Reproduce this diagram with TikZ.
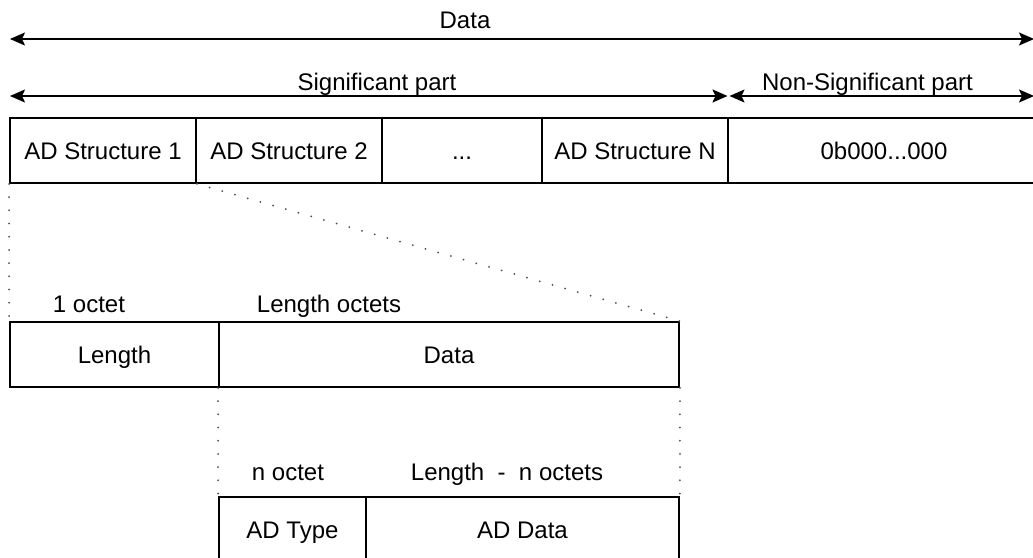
\documentclass[tikz,border=0pt]{standalone}
\usepackage{fontspec}
\setmainfont{Liberation Sans}
\usetikzlibrary{arrows.meta}
\begin{document}
\begin{tikzpicture}[x=0.5pt,y=-0.5pt]
    \tikzstyle{cell}=[draw, line width=0.9pt, inner sep=0pt, minimum height=32.5pt, text height=8.6pt, text depth=0pt, font=\fontsize{12}{14}\selectfont]
    \tikzstyle{lbl}=[inner sep=0pt, anchor=base, font=\fontsize{12}{14}\selectfont]
    \tikzstyle{span}=[line width=0.9pt, {Stealth[length=7.5pt,width=6.5pt,inset=1.5pt]}-{Stealth[length=7.5pt,width=6.5pt,inset=1.5pt]}]
    \tikzstyle{zoomline}=[gray!60!black, line width=1pt, line cap=round, dash pattern=on 0pt off 6.6pt]
    \useasboundingbox (0,0) rectangle (1033,557);
    % top row
    \node[cell, minimum width=93pt] (s1) at (103,150.5){AD Structure 1};
    \node[cell, minimum width=93pt] (s2) at (289,150.5){AD Structure 2};
    \node[cell, minimum width=80pt] (s3) at (462,150.5){...};
    \node[cell, minimum width=93pt] (sn) at (635,150.5){AD Structure N};
    \node[cell, minimum width=156pt] (pad) at (884,150.5){0b000...000};
    % spans
    \coordinate (dl) at (10,39);
    \coordinate (dr) at (1034,39);
    \coordinate (sl) at (10,96);
    \coordinate (sr) at (727.5,96);
    \coordinate (nl) at (729.5,96);
    \coordinate (nr) at (1034,96);
    \draw[span] (dl) -- (dr);
    \draw[span] (sl) -- (sr);
    \draw[span] (nl) -- (nr);
    \node[lbl] (tdata) at (465,28){Data};
    \node[lbl] (tsig) at (377,90){Significant part};
    \node[lbl] (tnon) at (867.5,90){Non-Significant part};
    % one structure
    \node[cell, minimum width=104.5pt] (len) at (114.5,354.5){Length};
    \node[cell, minimum width=230pt] (dat) at (449,354.5){Data};
    \node[lbl] (t1) at (89,312){1 octet};
    \node[lbl] (tlen) at (329,312){Length octets};
    % its data
    \node[cell, minimum width=73.5pt] (adtype) at (292.5,529.5){AD Type};
    \node[cell, minimum width=156.5pt] (addata) at (522.5,529.5){AD Data};
    \node[lbl] (tn) at (288,480){n octet};
    \node[lbl] (trest) at (507,480){Length~~-~~n octets};
    % zoom lines
    \draw[zoomline] (s1.south west) -- (len.north west);
    \draw[zoomline] (s1.south east) -- (dat.north east);
    \draw[zoomline] (dat.south west) -- (adtype.north west);
    \draw[zoomline] (dat.south east) -- (addata.north east);
  \end{tikzpicture}
\end{document}
